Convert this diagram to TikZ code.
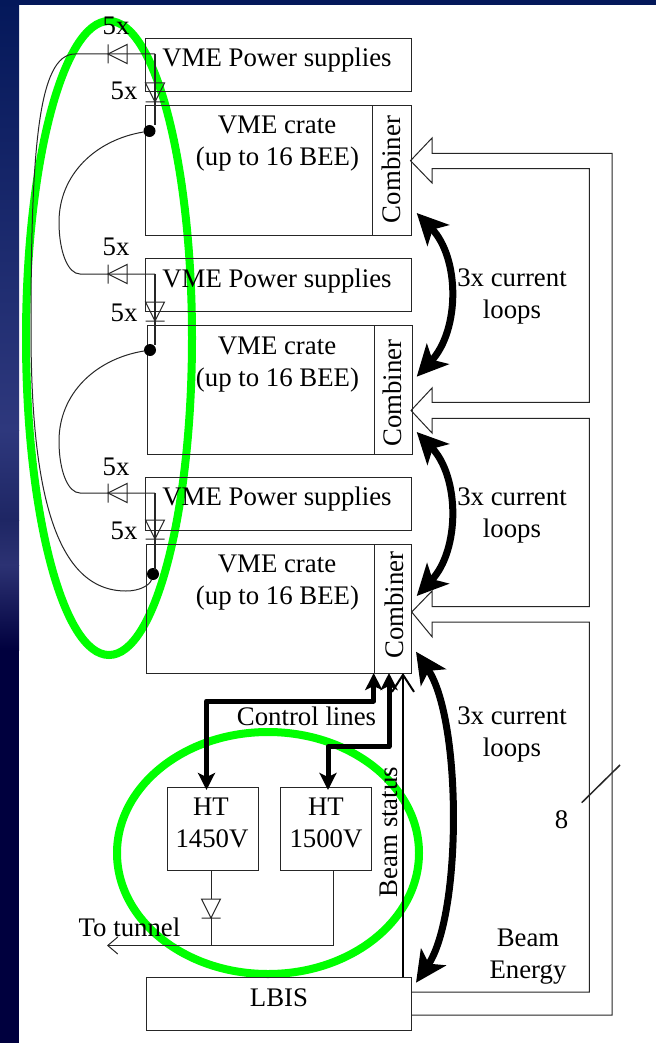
\documentclass[tikz,border=0pt]{standalone}
\usepackage{fontspec}
\setmainfont{Liberation Serif}
\usetikzlibrary{arrows.meta}
\definecolor{navyA}{RGB}{4,24,90}
\definecolor{navyB}{RGB}{46,56,125}
\definecolor{navyC}{RGB}{30,38,100}
\definecolor{navyD}{RGB}{44,50,115}
\definecolor{navyE}{RGB}{0,0,62}
\definecolor{ringgreen}{RGB}{0,255,0}
\definecolor{wire}{gray}{0.15}
\tikzset{
  box/.style={draw=wire,line width=1pt,inner sep=0pt,outer sep=0pt},
  lbl/.style={inner sep=0pt,outer sep=0pt,anchor=base,font=\fontsize{26.8pt}{30pt}\selectfont},
  rlbl/.style={inner sep=0pt,outer sep=0pt,rotate=90,font=\fontsize{26.8pt}{30pt}\selectfont},
  thin wire/.style={draw=wire,line width=1pt},
  ring/.style={draw=ringgreen,line width=8pt},
  thick ctl/.style={line width=5pt,line join=round,{Stealth[length=17pt,width=17pt,inset=4pt]}-{Stealth[length=17pt,width=17pt,inset=4pt]}},
  loop arrow/.style={line width=7pt,{Stealth[length=31pt,width=30pt,inset=8pt]}-{Stealth[length=31pt,width=30pt,inset=8pt]}},
  open tip/.style={-{Straight Barb[length=10pt,width=17pt,line width=1pt]}},
  dotj/.style={circle,fill=black,minimum size=12pt,inner sep=0pt,outer sep=0pt},
  pics/diodeleft/.style={code={
    \draw[thin wire] (0,-9.5) -- (0,9.5) (0,0) -- (19,-9.5) -- (19,9.5) -- cycle;}},
  pics/diodedown/.style={code={
    \draw[thin wire] (-9.5,19) -- (9.5,19) (0,19) -- (-9.5,0) -- (9.5,0) -- cycle;}},
}
\begin{document}
\begin{tikzpicture}[x=1pt,y=-1pt]
\useasboundingbox (0,0) rectangle (656,1043);
% background
\fill[white] (0,0) rectangle (656,1043);
\fill[navyA] (0,0) rectangle (656,5);
\shade[top color=navyA,bottom color=navyB] (0,0) rectangle (19,430);
\shade[top color=navyB,bottom color=navyC] (0,430) rectangle (19,520);
\shade[top color=navyC,bottom color=navyD] (0,520) rectangle (19,565);
\shade[top color=navyD,bottom color=navyE] (0,565) rectangle (19,650);
\fill[navyE] (0,650) rectangle (19,1043);
% rings
\draw[ring] (109,338) ellipse [x radius=83,y radius=317];
\draw[ring] (268,853) ellipse [x radius=151,y radius=121];
% boxes
\node[box,minimum width=266pt,minimum height=53pt] (ps1) at (278,65.5) {};
\node[box,minimum width=266pt,minimum height=129pt] (crate1) at (278,170.5) {};
\node[box,minimum width=266pt,minimum height=53pt] (ps2) at (278,284.5) {};
\node[box,minimum width=265pt,minimum height=129pt] (crate2) at (279.5,389.5) {};
\node[box,minimum width=266pt,minimum height=53pt] (ps3) at (278,504) {};
\node[box,minimum width=265pt,minimum height=129pt] (crate3) at (279,608.5) {};
\node[box,minimum width=91pt,minimum height=83pt] (ht1) at (212.5,828.5) {};
\node[box,minimum width=91pt,minimum height=83pt] (ht2) at (326,828.5) {};
\node[box,minimum width=265pt,minimum height=53pt] (lbis) at (279,1003.5) {};
% combiner dividers
\draw[thin wire] (372.5,106) -- (372.5,235);
\draw[thin wire] (374,325) -- (374,454);
\draw[thin wire] (374,544) -- (374,673);
% junction points
\coordinate (w1) at (155,54);
\coordinate (w2) at (155,274);
\coordinate (w3) at (155,493);
\node[dotj] (d1) at (149.5,131) {};
\node[dotj] (d2) at (150,350) {};
\node[dotj] (d3) at (153,574) {};
% wiring of the diodes
\pic at (108,54) {diodeleft};
\pic at (155,83) {diodedown};
\pic at (108,274) {diodeleft};
\pic at (155,302) {diodedown};
\pic at (108,493) {diodeleft};
\pic at (155,520) {diodedown};
\draw[thin wire,line width=1.4pt] (w1) -- (155,125) (w2) -- (155,345) (w3) -- (155,570);
\draw[thin wire] (w1) -- (75,54) .. controls (38,54) and (31,150) .. (31,330)
  .. controls (31,490) and (55,591) .. (126,591) .. controls (140,591) and (150,585) .. (d3);
\draw[thin wire] (d1) .. controls (95,140) and (59,175) .. (59,222) .. controls (59,252) and (68,274) .. (80,274) -- (w2);
\draw[thin wire] (d2) .. controls (95,359) and (59,394) .. (59,441) .. controls (59,471) and (68,493) .. (80,493) -- (w3);
% HT outputs
\coordinate (tun) at (107,945.5);
\pic at (211,899) {diodedown};
\draw[thin wire] (211,870) -- (211,899) (211,918) -- (211,945.5);
\draw[thin wire,open tip] (333.5,870) -- (333.5,945.5) -- (tun);
% control lines
\draw[thick ctl] (206.5,790) -- (206.5,701) -- (373.7,701) -- (373.7,673);
\draw[thick ctl] (328,790) -- (328,746.7) -- (389,746.7) -- (389,673);
% beam status
\draw[draw=black,line width=2pt,-{Straight Barb[length=17pt,width=22pt,line width=2pt]}] (403,977) -- (403,673);
% current loops
\draw[loop arrow] (416.7,213) .. controls (460,258) and (460,330) .. (416.7,376.7);
\draw[loop arrow] (416.7,432) .. controls (460,477) and (460,550) .. (416.7,596);
\draw[loop arrow] (416,651.7) .. controls (462,720) and (462,915) .. (416,982.7);
% bus
\draw[thin wire,line join=miter] (411.5,1015) -- (612,1015) -- (612,153.3) -- (432,153.3) -- (432,138) -- (410.5,160.7) -- (432,183)
  -- (432,168.7) -- (589.3,168.7) -- (589.3,402.3) -- (432,402.3) -- (432,388) -- (411,410.5) -- (432,433)
  -- (432,418.3) -- (589.3,418.3) -- (589.3,606.7) -- (432,606.7) -- (432,591) -- (411.7,612) -- (432,636.7)
  -- (432,622) -- (589.3,622) -- (589.3,992) -- (411.5,992);
\draw[thin wire,line width=1.5pt] (581.7,802.7) -- (620,765);
% labels
\node[lbl] (t1) at (277,67) {VME Power supplies};
\node[lbl] (t2) at (277,287) {VME Power supplies};
\node[lbl] (t3) at (277,505) {VME Power supplies};
\node[lbl] (c1a) at (277,134) {VME crate};
\node[lbl] (c1b) at (277.5,166) {(up to 16 BEE)};
\node[lbl] (c2a) at (277,354) {VME crate};
\node[lbl] (c2b) at (277.5,386) {(up to 16 BEE)};
\node[lbl] (c3a) at (277,572) {VME crate};
\node[lbl] (c3b) at (277.5,604) {(up to 16 BEE)};
\node[rlbl] (cb1) at (391,169.5) {Combiner};
\node[rlbl] (cb2) at (392,393) {Combiner};
\node[rlbl] (cb3) at (394,605) {Combiner};
\node[lbl] (x1) at (116,34.5) {5x};
\node[lbl] (x2) at (124,100) {5x};
\node[lbl] (x3) at (116,255) {5x};
\node[lbl] (x4) at (124,321) {5x};
\node[lbl] (x5) at (116,475) {5x};
\node[lbl] (x6) at (124,539) {5x};
\node[lbl] (l1a) at (512,286) {3x current};
\node[lbl] (l1b) at (512,318) {loops};
\node[lbl] (l2a) at (512,505) {3x current};
\node[lbl] (l2b) at (512,537) {loops};
\node[lbl] (l3a) at (512,724) {3x current};
\node[lbl] (l3b) at (512,756) {loops};
\node[lbl] (cl) at (306.5,725) {Control lines};
\node[rlbl] (bs) at (389,832) {Beam status};
\node[lbl] (h1a) at (211,815) {HT};
\node[lbl] (h1b) at (212,847) {1450V};
\node[lbl] (h2a) at (326,815) {HT};
\node[lbl] (h2b) at (326,847) {1500V};
\node[lbl] (tt) at (129.5,936) {To tunnel};
\node[lbl] (lb) at (279,1006) {LBIS};
\node[lbl] (n8) at (561.5,828) {8};
\node[lbl] (be1) at (528,946) {Beam};
\node[lbl] (be2) at (528,978) {Energy};
\end{tikzpicture}
\end{document}
